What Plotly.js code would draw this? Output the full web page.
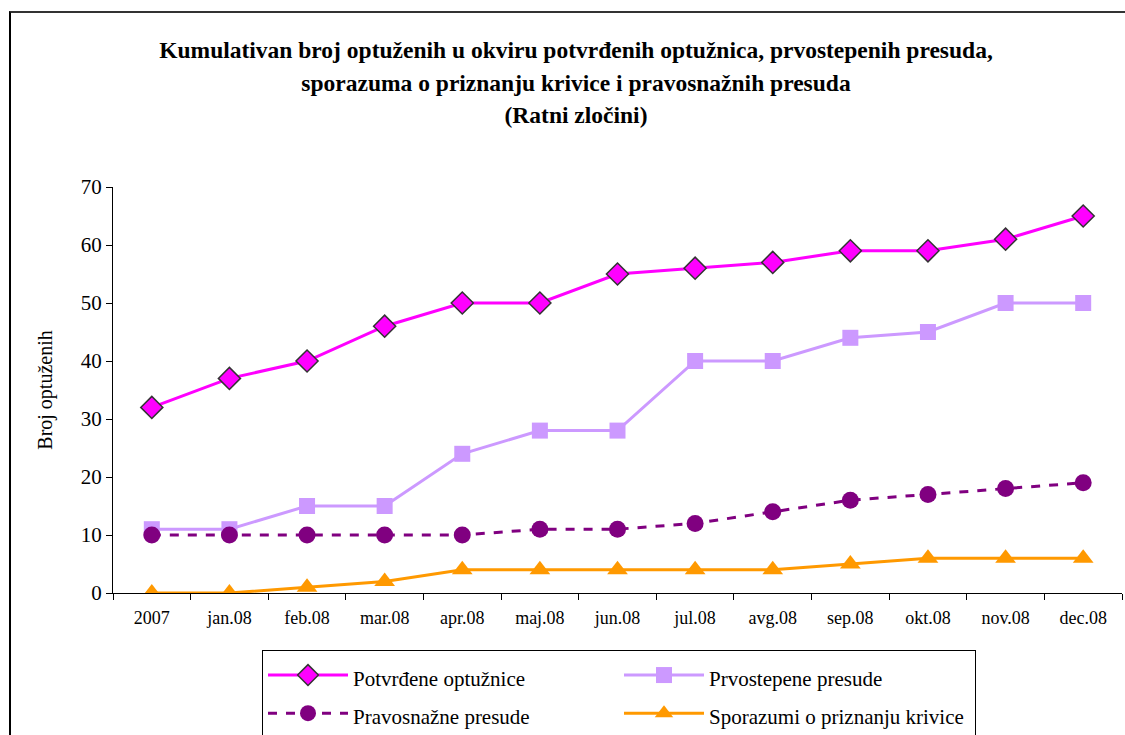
<!DOCTYPE html>
<html>
<head>
<meta charset="utf-8">
<script src="https://cdn.plot.ly/plotly-3.0.1.min.js"></script>
<style>
html,body{margin:0;padding:0;background:#fff;}
#wrap{position:relative;width:1125px;height:735px;overflow:hidden;}
#frame{position:absolute;left:9px;top:11px;width:1200px;height:800px;border-left:2px solid #000;border-top:2px solid #333;pointer-events:none;}
#chart{position:absolute;left:0;top:0;width:1125px;height:735px;}
</style>
</head>
<body>
<div id="wrap">
<div id="chart"></div>
<div id="frame"></div>
</div>
<script>
var categories = ["2007","jan.08","feb.08","mar.08","apr.08","maj.08","jun.08","jul.08","avg.08","sep.08","okt.08","nov.08","dec.08"];
var potvrdene = [32,37,40,46,50,50,55,56,57,59,59,61,65];
var prvostepene = [11,11,15,15,24,28,28,40,40,44,45,50,50];
var pravosnazne = [10,10,10,10,10,11,11,12,14,16,17,18,19];
var sporazumi = [0,0,1,2,4,4,4,4,4,5,6,6,6];
var seriesNames = ["Potvrđene optužnice","Prvostepene presude","Pravosnažne presude","Sporazumi o priznanju krivice"];
var titleLines = ["Kumulativan broj optuženih u okviru potvrđenih optužnica, prvostepenih presuda,",
                  "sporazuma o priznanju krivice i pravosnažnih presuda",
                  "(Ratni zločini)"];
var yTitle = "Broj optuženih";
var yTicks = [0,10,20,30,40,50,60,70];

var serif = "'Liberation Serif', 'Times New Roman', serif";
function legendLabel(s){ return '<span style="font-size:21px">' + s + '</span>'; }

var traces = [
  {x: categories, y: potvrdene, name: legendLabel(seriesNames[0]), type: "scatter", mode: "lines+markers",
   line: {color: "#FF00FF", width: 3},
   marker: {symbol: "diamond", size: 17, color: "#FF00FF", line: {color: "#333333", width: 1.5}}},
  {x: categories, y: prvostepene, name: legendLabel(seriesNames[1]), type: "scatter", mode: "lines+markers",
   line: {color: "#CC99FF", width: 3},
   marker: {symbol: "square", size: 16, color: "#CC99FF"}},
  {x: categories, y: pravosnazne, name: legendLabel(seriesNames[2]), type: "scatter", mode: "lines+markers",
   line: {color: "#800080", width: 3, dash: "dash"},
   marker: {symbol: "circle", size: 17, color: "#800080"}},
  {x: categories, y: sporazumi, name: legendLabel(seriesNames[3]), type: "scatter", mode: "lines+markers",
   line: {color: "#FF9900", width: 3},
   marker: {symbol: "triangle-up", size: 18, color: "#FF9900"}}
];

var layout = {
  width: 1125, height: 735,
  paper_bgcolor: "rgba(0,0,0,0)", plot_bgcolor: "rgba(0,0,0,0)",
  margin: {l: 113, r: 3, t: 187, b: 142, autoexpand: false},
  font: {family: serif, color: "#000"},
  title: {
    text: titleLines.map(function(s){ return '<span style="font-size:23.5px"><b>' + s + '</b></span>'; }).join("<br>"),
    font: {family: serif, size: 25, color: "#000"},
    x: 576/1125, xref: "container", xanchor: "center",
    y: 1 - 58/735, yref: "container", yanchor: "top"
  },
  xaxis: {
    type: "category", categoryorder: "array", categoryarray: categories,
    showline: true, linecolor: "#000", linewidth: 1,
    ticks: "outside", ticklen: 6, tickcolor: "#000", tickson: "boundaries",
    ticklabelstandoff: 8,
    showgrid: false, zeroline: false,
    tickfont: {family: serif, size: 18, color: "#000"},
    range: [-0.5, 12.5], fixedrange: true
  },
  yaxis: {
    range: [0, 70], tickvals: yTicks,
    showline: true, linecolor: "#000", linewidth: 1,
    ticks: "outside", ticklen: 6, tickcolor: "#000",
    showgrid: false, zeroline: false,
    tickfont: {family: serif, size: 21, color: "#000"},
    title: {text: yTitle, font: {family: serif, size: 20, color: "#000"}, standoff: 22}
  },
  showlegend: true,
  legend: {
    orientation: "h", x: (262-113)/1009, xanchor: "left",
    y: (593-650)/406, yanchor: "top",
    bordercolor: "#000", borderwidth: 1, bgcolor: "#fff",
    entrywidth: 261, entrywidthmode: "pixels",
    font: {family: serif, size: 27, color: "#000"},
    itemwidth: 80, tracegroupgap: 0,
    traceorder: "normal"
  }
};

Plotly.newPlot("chart", traces, layout, {displayModeBar: false, staticPlot: true});
</script>
</body>
</html>
